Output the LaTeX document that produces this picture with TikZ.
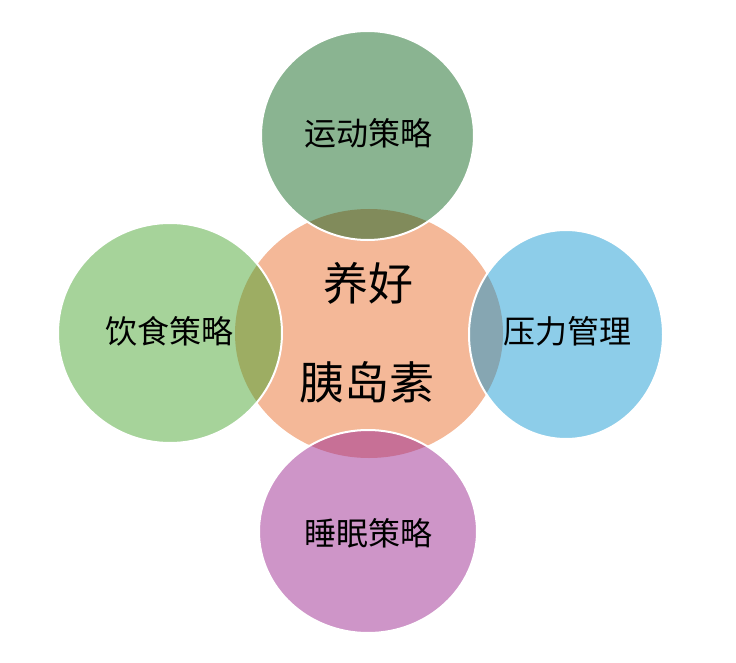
\documentclass[tikz,border=0pt]{standalone}
\usepackage{fontspec}
\newfontfamily\cjk{Noto Sans CJK SC}
\definecolor{cmain}{HTML}{F4B898}
\definecolor{ctop}{HTML}{8AB491}
\definecolor{ctopov}{HTML}{818B5B}
\definecolor{cleft}{HTML}{A6D39A}
\definecolor{cleftov}{HTML}{9DAD63}
\definecolor{cright}{HTML}{8DCDE9}
\definecolor{crightov}{HTML}{86A6B2}
\definecolor{cbot}{HTML}{CE95C8}
\definecolor{cbotov}{HTML}{C77096}
\tikzset{
  rim/.style={draw=white, line width=2pt},
  outerlabel/.style={font=\cjk\fontsize{32}{38}\selectfont, text=black, inner sep=0pt},
  mainlabel/.style={font=\cjk\fontsize{45}{54}\selectfont, text=black, inner sep=0pt}
}
\begin{document}
\begin{tikzpicture}[x=1pt,y=-1pt]
\useasboundingbox (0,0) rectangle (736,663);
\coordinate (C) at (369,333.5);
\coordinate (T) at (367.5,135.5);
\coordinate (L) at (170,333);
\coordinate (R) at (566,334.5);
\coordinate (B) at (368,531.5);
\def\mainell{(C) ellipse [x radius=134pt, y radius=124.5pt]}
% centre disc
\fill[cmain] \mainell;
% top
\fill[ctop] (T) ellipse [x radius=106.5pt, y radius=104.5pt];
\begin{scope}
  \clip (T) ellipse [x radius=106.5pt, y radius=104.5pt];
  \fill[ctopov] \mainell;
\end{scope}
\draw[rim] (T) ellipse [x radius=106.5pt, y radius=104.5pt];
% left
\fill[cleft] (L) ellipse [x radius=112pt, y radius=110pt];
\begin{scope}
  \clip (L) ellipse [x radius=112pt, y radius=110pt];
  \fill[cleftov] \mainell;
\end{scope}
\draw[rim] (L) ellipse [x radius=112pt, y radius=110pt];
% right
\fill[cright] (R) ellipse [x radius=97pt, y radius=104.5pt];
\begin{scope}
  \clip (R) ellipse [x radius=97pt, y radius=104.5pt];
  \fill[crightov] \mainell;
\end{scope}
\draw[rim] (R) ellipse [x radius=97pt, y radius=104.5pt];
% bottom
\fill[cbot] (B) ellipse [x radius=109pt, y radius=101.5pt];
\begin{scope}
  \clip (B) ellipse [x radius=109pt, y radius=101.5pt];
  \fill[cbotov] \mainell;
\end{scope}
\draw[rim] (B) ellipse [x radius=109pt, y radius=101.5pt];
% labels
\node[mainlabel] (m1) at (368,283) {养好};
\node[mainlabel] (m2) at (367,382) {胰岛素};
\node[outerlabel] (t) at (368,133) {运动策略};
\node[outerlabel] (l) at (169,331.5) {饮食策略};
\node[outerlabel] (r) at (567.5,331.5) {压力管理};
\node[outerlabel] (b) at (368.8,533) {睡眠策略};
\end{tikzpicture}
\end{document}
